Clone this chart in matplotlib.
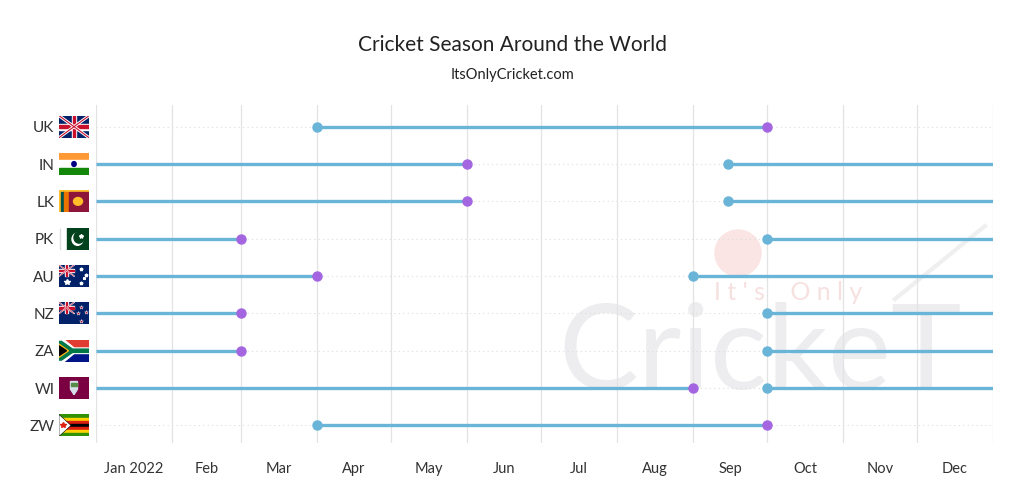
import matplotlib
matplotlib.use("Agg")
import matplotlib.pyplot as plt
import matplotlib.dates as mdates
import matplotlib.patches as mpatches
import pandas as pd

plt.rcParams['font.family'] = ['Lato', 'DejaVu Sans']

# data
countries = ['UK', 'IN', 'LK', 'PK', 'AU', 'NZ', 'ZA', 'WI', 'ZW']
season_start = ['2022-04-01', '2022-09-15', '2022-09-15', '2022-10-01', '2022-09-01',
                '2022-10-01', '2022-10-01', '2022-10-01', '2022-04-01']
season_end = ['2022-10-01', '2022-06-01', '2022-06-01', '2022-03-01', '2022-04-01',
              '2022-03-01', '2022-03-01', '2022-09-01', '2022-10-01']
month_labels = ['Jan 2022', 'Feb', 'Mar', 'Apr', 'May', 'Jun', 'Jul', 'Aug', 'Sep', 'Oct', 'Nov', 'Dec']

LINE = '#6ab4d8'
START_C = '#6ab4d8'
END_C = '#a466e0'

year_start = pd.Timestamp('2022-01-01')
year_end = pd.Timestamp('2023-01-01')

fig = plt.figure(figsize=(10.24, 5.04), dpi=100, facecolor='white')
ax = fig.add_axes([96 / 1024, 1 - 443 / 504, 897 / 1024, 338 / 504])
ax.set_zorder(2)

# watermark (faint logo behind the chart)
fig.text(0.742, 1 - 356 / 504, 'CrickeT', fontsize=86, color='#ededef', ha='center', va='center', zorder=-1)
fig.text(0.77, 1 - 292 / 504, "I t ' s    O n l y", fontsize=18, color='#f7e0e0', ha='center', va='center', zorder=-1)
fig.patches.append(mpatches.Circle((7.38, 2.51), 0.23, transform=fig.dpi_scale_trans,
                                   color='#fae4e4', zorder=-1))
fig.lines.append(plt.Line2D([8.95, 9.85], [2.05, 2.78], transform=fig.dpi_scale_trans,
                            color='#efefef', lw=3, zorder=-1))

ax.set_facecolor('none')
for i, c in enumerate(countries):
    s = pd.Timestamp(season_start[i])
    e = pd.Timestamp(season_end[i])
    if s < e:
        ax.plot([s, e], [i, i], color=LINE, lw=2.4, zorder=3, solid_capstyle='butt')
    else:
        ax.plot([year_start, e], [i, i], color=LINE, lw=2.4, zorder=3, solid_capstyle='butt')
        ax.plot([s, year_end], [i, i], color=LINE, lw=2.4, zorder=3, solid_capstyle='butt')
    ax.plot([s], [i], 'o', color=START_C, ms=6.5, zorder=4)
    ax.plot([e], [i], 'o', color=END_C, ms=6.5, zorder=4)
    ax.axhline(i, color='#dddddd', lw=0.8, ls=(0, (1, 3)), zorder=1)

month_starts = pd.date_range('2022-01-01', '2023-01-01', freq='MS')
for m in month_starts:
    ax.axvline(m, color='#e3e3e3', lw=0.9, zorder=1)

mid = [m + (n - m) / 2 for m, n in zip(month_starts[:-1], month_starts[1:])]
ax.set_xticks(mid)
ax.set_xticklabels(month_labels, fontsize=10.5, color='#333333')
ax.set_xlim(year_start, year_end)
ax.set_ylim(8.47, -0.58)
ax.set_yticks(range(len(countries)))
ax.set_yticklabels(countries, fontsize=11, color='#333333')
ax.tick_params(axis='y', length=0, pad=30)
ax.tick_params(axis='x', length=0, pad=14)
for sp in ax.spines.values():
    sp.set_visible(False)

fig.text(0.5, 1 - 45 / 504, 'Cricket Season Around the World', ha='center', va='center',
         fontsize=15, color='#222222')
fig.text(0.5, 1 - 75 / 504, 'ItsOnlyCricket.com', ha='center', va='center',
         fontsize=10.5, color='#222222')


# flags
def union_jack(fa, x0, y0, w, h):
    fa.add_patch(mpatches.Rectangle((x0, y0), w, h, color='#012169'))
    fa.plot([x0, x0 + w], [y0, y0 + h], color='white', lw=2.2 * w / 3)
    fa.plot([x0, x0 + w], [y0 + h, y0], color='white', lw=2.2 * w / 3)
    fa.plot([x0, x0 + w], [y0, y0 + h], color='#C8102E', lw=0.8 * w / 3)
    fa.plot([x0, x0 + w], [y0 + h, y0], color='#C8102E', lw=0.8 * w / 3)
    fa.add_patch(mpatches.Rectangle((x0, y0 + h * 0.36), w, h * 0.28, color='white'))
    fa.add_patch(mpatches.Rectangle((x0 + w * 0.42, y0), w * 0.16, h, color='white'))
    fa.add_patch(mpatches.Rectangle((x0, y0 + h * 0.42), w, h * 0.16, color='#C8102E'))
    fa.add_patch(mpatches.Rectangle((x0 + w * 0.455, y0), w * 0.09, h, color='#C8102E'))


def flag_uk(fa):
    union_jack(fa, 0, 0, 3, 2)


def flag_in(fa):
    fa.add_patch(mpatches.Rectangle((0, 1.33), 3, 0.67, color='#FF9933'))
    fa.add_patch(mpatches.Rectangle((0, 0.67), 3, 0.66, color='white'))
    fa.add_patch(mpatches.Rectangle((0, 0), 3, 0.67, color='#138808'))
    fa.add_patch(mpatches.Circle((1.5, 1.0), 0.22, color='#000080'))


def flag_lk(fa):
    fa.add_patch(mpatches.Rectangle((0, 0), 3, 2, color='#FFBE29'))
    fa.add_patch(mpatches.Rectangle((0.15, 0.15), 0.35, 1.7, color='#00534E'))
    fa.add_patch(mpatches.Rectangle((0.5, 0.15), 0.35, 1.7, color='#EB7400'))
    fa.add_patch(mpatches.Rectangle((1.0, 0.15), 1.85, 1.7, color='#8D153A'))
    fa.add_patch(mpatches.Ellipse((1.9, 1.0), 0.9, 0.7, color='#FFBE29'))


def flag_pk(fa):
    fa.add_patch(mpatches.Rectangle((0, 0), 0.75, 2, color='white'))
    fa.add_patch(mpatches.Rectangle((0.05, 0), 0.02, 2, color='#dddddd'))
    fa.add_patch(mpatches.Rectangle((0.75, 0), 2.25, 2, color='#01411C'))
    fa.add_patch(mpatches.Circle((1.85, 0.95), 0.55, color='white'))
    fa.add_patch(mpatches.Circle((2.0, 1.1), 0.5, color='#01411C'))
    fa.plot([2.2], [1.25], marker='*', color='white', ms=3)


def flag_au(fa):
    fa.add_patch(mpatches.Rectangle((0, 0), 3, 2, color='#012169'))
    union_jack(fa, 0, 1, 1.5, 1)
    for (x, y, s) in [(0.75, 0.45, 4), (2.2, 1.6, 2.5), (2.7, 1.1, 2.5), (2.2, 0.35, 2.5), (2.45, 0.85, 2)]:
        fa.plot([x], [y], marker='*', color='white', ms=s)


def flag_nz(fa):
    fa.add_patch(mpatches.Rectangle((0, 0), 3, 2, color='#012169'))
    union_jack(fa, 0, 1, 1.5, 1)
    for (x, y) in [(2.2, 1.6), (2.7, 1.15), (2.2, 0.35), (1.9, 1.05)]:
        fa.plot([x], [y], marker='*', color='#C8102E', mec='white', mew=0.3, ms=3)


def flag_za(fa):
    fa.add_patch(mpatches.Rectangle((0, 1), 3, 1, color='#E03C31'))
    fa.add_patch(mpatches.Rectangle((0, 0), 3, 1, color='#001489'))
    fa.add_patch(mpatches.Polygon([(0, 2), (0.5, 2), (1.5, 1.25), (3, 1.25), (3, 0.75), (1.5, 0.75),
                                   (0.5, 0), (0, 0)], color='white'))
    fa.add_patch(mpatches.Polygon([(0, 1.85), (0.25, 1.85), (1.35, 1.15), (3, 1.15), (3, 0.85),
                                   (1.35, 0.85), (0.25, 0.15), (0, 0.15)], color='#007749'))
    fa.add_patch(mpatches.Polygon([(0, 1.6), (0.95, 1.0), (0, 0.4)], color='#FFB612'))
    fa.add_patch(mpatches.Polygon([(0, 1.45), (0.75, 1.0), (0, 0.55)], color='black'))


def flag_wi(fa):
    fa.add_patch(mpatches.Rectangle((0, 0), 3, 2, color='#7B0041'))
    fa.add_patch(mpatches.Polygon([(1.15, 1.6), (1.85, 1.6), (1.85, 0.9), (1.5, 0.4), (1.15, 0.9)],
                                  color='#d6dee8'))
    fa.add_patch(mpatches.Rectangle((1.22, 1.15), 0.56, 0.3, color='#5a8a4a'))


def flag_zw(fa):
    cols = ['#319208', '#FFD200', '#DE2010', '#000000', '#DE2010', '#FFD200', '#319208']
    for k, col in enumerate(cols):
        fa.add_patch(mpatches.Rectangle((0, 2 - (k + 1) * 2 / 7), 3, 2 / 7, color=col))
    fa.add_patch(mpatches.Polygon([(0, 2), (1.2, 1.0), (0, 0)], color='white', ec='black', lw=0.4))
    fa.plot([0.4], [1.0], marker='*', color='#DE2010', ms=4)


flag_funcs = [flag_uk, flag_in, flag_lk, flag_pk, flag_au, flag_nz, flag_za, flag_wi, flag_zw]
inv = fig.transFigure.inverted()
for i, fn in enumerate(flag_funcs):
    px, py = ax.transData.transform((mdates.date2num(year_start), i))
    fx0, fy0 = inv.transform((59, py - 11))
    fx1, fy1 = inv.transform((89, py + 11))
    fa = fig.add_axes([fx0, fy0, fx1 - fx0, fy1 - fy0])
    fa.set_xlim(0, 3)
    fa.set_ylim(0, 2)
    fa.axis('off')
    fn(fa)

fig.savefig('out.png', dpi=100, facecolor='white')
